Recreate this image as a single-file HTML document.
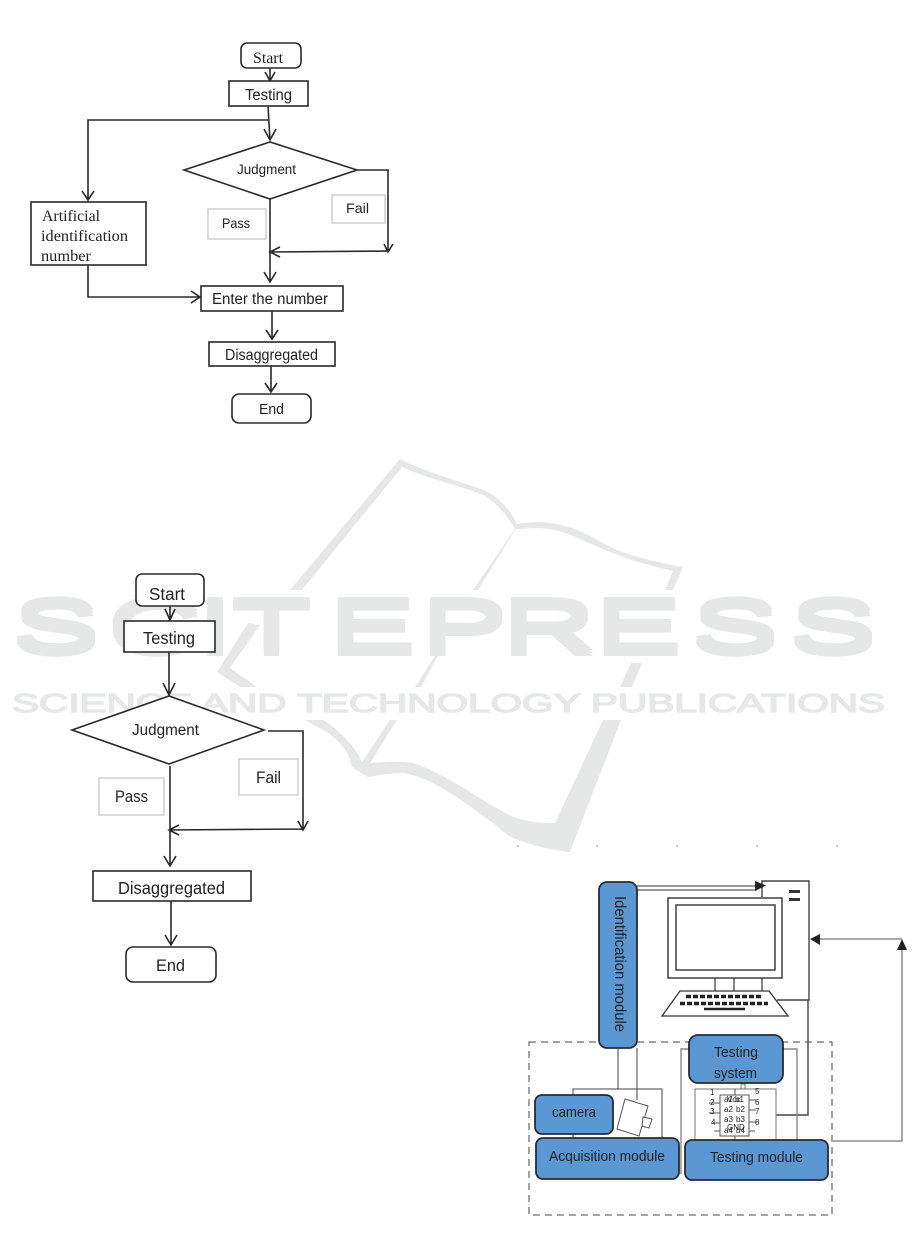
<!DOCTYPE html>
<html><head><meta charset="utf-8"><style>
html,body{margin:0;padding:0;background:#fff;width:914px;height:1233px;overflow:hidden}
svg{display:block;filter:blur(0.35px)}
text{font-family:"Liberation Sans",sans-serif;fill:#222}
.l{fill:none;stroke:#2a2a2a;stroke-width:1.6}
.b{fill:#fff;stroke:#2a2a2a;stroke-width:1.6}
.g{fill:#fff;stroke:#c8c8c8;stroke-width:1.3}
.bl{fill:#5b97d3;stroke:#262c33;stroke-width:1.8}
.t{fill:none;stroke:#444;stroke-width:1}
.h{fill:none;stroke:#8a8a8a;stroke-width:1.4}
.wm{fill:#e6e8e7}
.wt{font-size:74px;fill:#e6e8e7;stroke:#e6e8e7;stroke-width:2px;stroke-linejoin:miter}
</style></head><body>
<svg width="914" height="1233" viewBox="0 0 914 1233" xmlns="http://www.w3.org/2000/svg">
<!-- watermark -->
<path class="wm" d="M290 590L400 459C420 470 450 478 483 490C500 497 510 510 517 524C540 520 560 523 577 530C590 535 605 545 617 550C640 558 660 563 683 567L673 590L665 590L673 571C650 566 630 560 613 553C590 545 565 528 537 528L515 529C505 512 495 502 483 495C460 485 430 480 402 467L302 590Z"/>
<path class="wm" d="M515 529L473 590L478 590L517 527Z"/>
<path class="wm" d="M415 687L421 687L445 643L439 650Z"/>
<path class="wm" d="M248 623L217 672L240 687L257 687L230 668L260 625Z"/>
<path class="wm" d="M631 663L642 663L632 687L620 687Z"/>
<path class="wm" d="M305 720L323 720C335 727 355 745 362 762L390 720L397 720L370 763C385 762 400 761 413 763C430 768 450 780 467 790C485 802 500 810 513 817C530 822 540 823 555 823L603 720L621 720L570 852C555 851 530 845 513 838C505 835 500 828 493 823C475 810 455 795 440 787C425 778 415 775 403 773C390 773 380 775 368 777L352 767C350 760 348 752 343 747C335 738 330 733 323 730Z"/>
<path class="wm" d="M674 580L665 590L673 590L677 580Z"/>
<g transform="scale(1.75,1)">
<text class="wt" y="649" x="7.4 61.7 112.6 132.6 188 240.6 286.900 340 395.400 451.400">SCITEPRESS</text>
<text class="wt" y="652" x="7.4 61.7 112.6 132.6 188 240.6 286.900 340 395.400 451.400">SCITEPRESS</text>
<text class="wt" y="655" x="7.4 61.7 112.6 132.6 188 240.6 286.900 340 395.400 451.400">SCITEPRESS</text>
</g>
<text x="12" y="712" textLength="873" lengthAdjust="spacingAndGlyphs" style="font-size:25.500px;fill:#e6e8e7;stroke:#e6e8e7;stroke-width:1.300px">SCIENCE AND TECHNOLOGY PUBLICATIONS</text>

<!-- chart 1 -->
<rect class="b" x="241" y="43" width="60" height="25" rx="6"/>
<text x="253" y="63" textLength="30" lengthAdjust="spacingAndGlyphs" style="font-family:'Liberation Serif',serif;font-size:16px">Start</text>
<path class="l" d="M270 68V81M265 72L270 81L275 72"/>
<rect class="b" x="229" y="81" width="79" height="25"/>
<text x="245" y="100" textLength="47" lengthAdjust="spacingAndGlyphs" style="font-size:15.500px">Testing</text>
<path class="l" d="M268 106L270 140M264 129L270 140L276 129M268 120H88V200M82 191L88 200L94 191"/>
<polygon class="b" points="184,170 270,142 357,170 270,199"/>
<text x="237" y="174" textLength="59" lengthAdjust="spacingAndGlyphs" style="font-size:13.500px">Judgment</text>
<rect class="g" x="208" y="209" width="58" height="30"/>
<text x="222" y="228" textLength="28" lengthAdjust="spacingAndGlyphs" style="font-size:14px">Pass</text>
<rect class="g" x="332" y="195" width="53" height="28"/>
<text x="346" y="213" textLength="23" lengthAdjust="spacingAndGlyphs" style="font-size:14px">Fail</text>
<path class="l" d="M357 170H388V252M384 244L388 252L393 244M388 251L270 252M280 247L270 252L280 257M270 199V282M264 272L270 282L276 272"/>
<rect class="b" x="31" y="202" width="115" height="63"/>
<g style="font-size:16px">
<text x="42" y="221" textLength="58" lengthAdjust="spacingAndGlyphs" style="font-family:'Liberation Serif',serif">Artificial</text>
<text x="41" y="241" textLength="87" lengthAdjust="spacingAndGlyphs" style="font-family:'Liberation Serif',serif">identification</text>
<text x="41" y="261" textLength="50" lengthAdjust="spacingAndGlyphs" style="font-family:'Liberation Serif',serif">number</text>
</g>
<path class="l" d="M88 265V297H200M191 291L200 297L191 303"/>
<rect class="b" x="201" y="286" width="142" height="25"/>
<text x="212" y="304" textLength="116" lengthAdjust="spacingAndGlyphs" style="font-size:15.500px">Enter the number</text>
<path class="l" d="M272 311V339M266 330L272 339L278 330"/>
<rect class="b" x="209" y="342" width="126" height="24"/>
<text x="225" y="360" textLength="93" lengthAdjust="spacingAndGlyphs" style="font-size:15.500px">Disaggregated</text>
<path class="l" d="M271 366V392M265 383L271 392L277 383"/>
<rect class="b" x="232" y="394" width="79" height="29" rx="7"/>
<text x="259" y="414" textLength="25" lengthAdjust="spacingAndGlyphs" style="font-size:15px">End</text>

<!-- chart 2 -->
<rect class="b" x="136" y="574" width="68" height="32" rx="6"/>
<text x="149" y="600" textLength="36" lengthAdjust="spacingAndGlyphs" style="font-size:17.500px">Start</text>
<path class="l" d="M170 606V621M165 609L170 620L175 609"/>
<rect class="b" x="124" y="621" width="91" height="31"/>
<text x="143" y="644" textLength="52" lengthAdjust="spacingAndGlyphs" style="font-size:17.500px">Testing</text>
<path class="l" d="M169 652V695M163 683L169 695L175 683"/>
<polygon class="b" points="72,730 169,696 264,730 169,764"/>
<text x="132" y="735" textLength="67" lengthAdjust="spacingAndGlyphs" style="font-size:15.500px">Judgment</text>
<rect class="g" x="99" y="778" width="65" height="37"/>
<text x="115" y="802" textLength="33" lengthAdjust="spacingAndGlyphs" style="font-size:17px">Pass</text>
<rect class="g" x="239" y="759" width="59" height="36"/>
<text x="256" y="783" textLength="25" lengthAdjust="spacingAndGlyphs" style="font-size:17px">Fail</text>
<path class="l" d="M268 731H303V829M298 821L303 830L308 821M303 829L169 830M179 825L169 830L179 835M170 766V866M164 856L170 866L176 856"/>
<rect class="b" x="93" y="871" width="158" height="30"/>
<text x="118" y="894" textLength="107" lengthAdjust="spacingAndGlyphs" style="font-size:17.500px">Disaggregated</text>
<path class="l" d="M171 901V945M165 935L171 945L177 935"/>
<rect class="b" x="126" y="947" width="90" height="35" rx="7"/>
<text x="156" y="971" textLength="29" lengthAdjust="spacingAndGlyphs" style="font-size:17px">End</text>

<!-- ticks -->
<path d="M518 845v2M597 845v2M677 845v2M757 845v2M837 845v2" stroke="#999" stroke-width="1"/>

<!-- system diagram -->
<rect x="529" y="1042" width="303" height="173" fill="none" stroke="#444" stroke-width="1" stroke-dasharray="7 5"/>
<!-- computer -->
<path class="h" style="stroke:#444" d="M762 897V881H809V1000H777M808 1000V1115H776"/>
<path d="M789 890h11v3h-11zM789 898h11v3h-11z" fill="#333"/>
<rect x="668" y="898" width="114" height="80" fill="#fff" stroke="#333" stroke-width="1.4"/>
<rect x="676" y="905" width="99" height="65" fill="#fff" stroke="#333" stroke-width="1.4"/>
<path d="M715 978V991M734 978V991M762 978V991" stroke="#333" stroke-width="1.2"/>
<polygon points="680,991 769,991 788,1016 662,1016" fill="#fff" stroke="#333" stroke-width="1.3"/>
<path d="M686 996.500H762M680 1003.500H768" stroke="#222" stroke-width="3.500" stroke-dasharray="5 2" fill="none"/>
<path d="M704 1009H745" stroke="#222" stroke-width="2.500"/>
<!-- arrows -->
<path d="M637 886H757M637 890H757" stroke="#333" stroke-width="1"/>
<polygon points="755,881 766,885.500 755,891" fill="#222"/>
<path d="M833 1141H902V945M902 939H818" fill="none" stroke="#777" stroke-width="1.300"/>
<polygon points="810,939 820,934 820,945" fill="#222"/>
<polygon points="902,939 907,950 897,950" fill="#222"/>
<!-- acquisition thin lines -->
<path class="t" d="M618 1048V1089M637 1048V1100M573 1138V1089H662V1138"/>
<polygon points="625,1099 648,1106 639,1136 617,1129" fill="#fff" stroke="#555" stroke-width="1"/>
<polygon points="643,1117 652,1119 649,1128 642,1126" fill="#fff" stroke="#555" stroke-width="1"/>
<!-- testing thin lines -->
<path class="h" d="M681 1174V1049H689M783 1049H797V1140"/>
<rect x="695" y="1089" width="81" height="51" fill="#fff" stroke="#777" stroke-width="1"/>
<rect x="741" y="1084" width="4" height="5" fill="#fff" stroke="#777" stroke-width="1"/>
<path d="M709 1103H720M709 1113H720M713 1123H720M749 1100H756M749 1110H756M749 1122H756M714 1131H755M735 1089V1095M735 1136V1140" stroke="#555" stroke-width="1"/>
<rect x="720" y="1095" width="29" height="41" fill="#fff" stroke="#555" stroke-width="1"/>
<g style="font-size:8px">
<text x="710" y="1095">1</text><text x="710" y="1105">2</text><text x="710" y="1114">3</text><text x="711" y="1125">4</text>
<text x="755" y="1094">5</text><text x="755" y="1105">6</text><text x="755" y="1114">7</text><text x="755" y="1125">8</text>
<text x="724" y="1102">a1</text><text x="735" y="1102">b1</text><text x="727" y="1102">Vcc</text>
<text x="724" y="1112">a2</text><text x="736" y="1112">b2</text>
<text x="724" y="1122">a3</text><text x="736" y="1122">b3</text>
<text x="724" y="1133">a4</text><text x="736" y="1133">b4</text><text x="727" y="1130">GND</text>
</g>
<!-- blue boxes -->
<rect class="bl" x="599" y="882" width="38" height="166" rx="8"/>
<text transform="translate(615,896) rotate(90)" textLength="136" lengthAdjust="spacingAndGlyphs" style="font-size:16px">Identification module</text>
<rect class="bl" x="689" y="1035" width="94" height="48" rx="9"/>
<text x="714" y="1057" textLength="44" lengthAdjust="spacingAndGlyphs" style="font-size:15px">Testing</text>
<text x="714" y="1078" textLength="43" lengthAdjust="spacingAndGlyphs" style="font-size:15px">system</text>
<rect class="bl" x="535" y="1095" width="78" height="39" rx="7"/>
<text x="552" y="1117" textLength="44" lengthAdjust="spacingAndGlyphs" style="font-size:15px">camera</text>
<rect class="bl" x="536" y="1138" width="143" height="41" rx="7"/>
<text x="549" y="1161" textLength="116" lengthAdjust="spacingAndGlyphs" style="font-size:15px">Acquisition module</text>
<rect class="bl" x="685" y="1140" width="143" height="40" rx="7"/>
<text x="710" y="1162" textLength="93" lengthAdjust="spacingAndGlyphs" style="font-size:15px">Testing module</text>
</svg>
</body></html>
